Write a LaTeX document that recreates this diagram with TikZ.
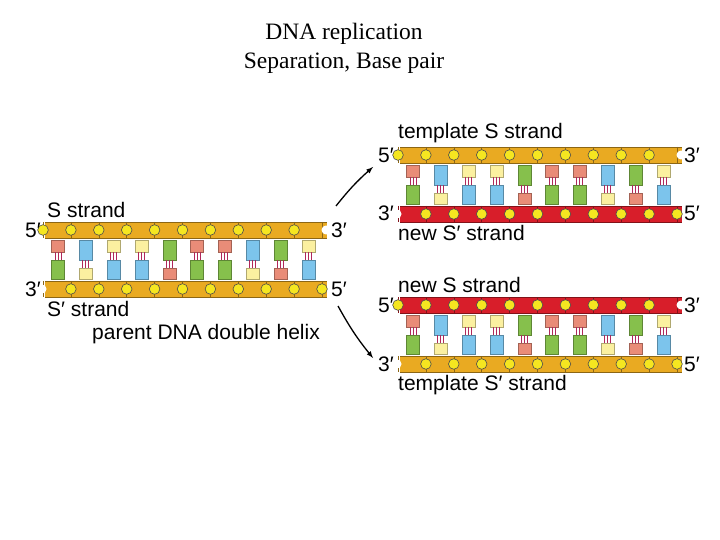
\documentclass[tikz,border=0pt]{standalone}
\usepackage{fontspec}
\setmainfont{Liberation Serif}
\newfontfamily\lsans{Liberation Sans}
\begin{document}
\definecolor{gold}{HTML}{E9AA22}
\definecolor{redb}{HTML}{D81E2A}
\definecolor{phos}{HTML}{F5E620}
\definecolor{sal}{HTML}{E98C78}
\definecolor{blu}{HTML}{7CC4EC}
\definecolor{yel}{HTML}{FBF0A0}
\definecolor{grn}{HTML}{86C04C}
\definecolor{bond}{HTML}{B0285A}
\tikzset{
 lab/.style={font=\lsans\fontsize{21}{23}\selectfont, inner sep=0pt},
 ttl/.style={font=\fontsize{23.5}{26}\selectfont, inner sep=0pt},
 ph/.style={draw=black!70, fill=phos, line width=0.6pt},
 arr/.style={-latex, line width=1.3pt}
}
\newcommand\backbone[4]{%
  \fill[#3] (#1,#2-8) rectangle (#1+282,#2+8);
  \draw[#4,line width=0.6pt] (#1,#2-8) -- (#1+282,#2-8) (#1,#2+8) -- (#1+282,#2+8);
  \foreach \j in {0,...,10} {\draw[#4,line width=0.6pt] (#1-2+27.9*\j,#2-8) -- (#1-2+27.9*\j,#2+8);}
}
\newcommand\duplex[4]{%
  \backbone{#1}{#2}{#3}{#3!60!black}{1}
  \backbone{#1}{#2+59}{#4}{#4!60!black}{0}
  \foreach \i/\t/\b/\tl in {0/sal/grn/0,1/blu/yel/1,2/yel/blu/0,3/yel/blu/0,4/grn/sal/1,5/sal/grn/0,6/sal/grn/0,7/blu/yel/1,8/grn/sal/1,9/yel/blu/0}{
    \pgfmathsetmacro\xc{#1+13+27.8*\i}
    \pgfmathsetmacro\tlen{\tl==1 ? 20 : 12}
    \pgfmathsetmacro\bstart{#2+10+\tlen+8}
    \draw[\t!70!black,fill=\t,line width=0.4pt] (\xc-6.5,#2+10) rectangle (\xc+6.5,#2+10+\tlen);
    \draw[\b!70!black,fill=\b,line width=0.4pt] (\xc-6.5,\bstart) rectangle (\xc+6.5,#2+49);
    \foreach \d in {-3,0,3}{\draw[bond,line width=0.9pt] (\xc+\d,#2+10+\tlen) -- (\xc+\d,\bstart);}
  }
  \foreach \j in {0,...,9} {\draw[ph] (#1-2+27.9*\j,#2) circle (5.3);}
  \foreach \j in {1,...,10} {\draw[ph] (#1-2+27.9*\j,#2+59) circle (5.3);}
  \fill[white] (#1+281,#2) circle (4.5);
  \fill[white] (#1-3,#2+59) circle (4.5);
}
\begin{tikzpicture}[x=1pt,y=-1pt]
\useasboundingbox (0,0) rectangle (720,540);
\fill[white] (0,0) rectangle (720,540);
\node[ttl] (t1) at (344,34) {DNA replication};
\node[ttl] (t2) at (344,63) {Separation, Base pair};
% parent
\duplex{45}{230}{gold}{gold}
\node[lab,anchor=west] (ls) at (47,210) {S strand};
\node[lab] (l5a) at (33,230) {5′};
\node[lab] (l3a) at (339,230) {3′};
\node[lab] (l3b) at (33,289) {3′};
\node[lab] (l5b) at (339,289) {5′};
\node[lab,anchor=west] (lsp) at (47,309) {S′ strand};
\node[lab,anchor=west] (lp) at (92,334) {parent DNA double helix};
% right top
\duplex{400}{155}{gold}{redb}
\node[lab,anchor=west] (rt) at (398,133) {template S strand};
\node[lab] (r5a) at (386,155) {5′};
\node[lab] (r3a) at (692,155) {3′};
\node[lab] (r3b) at (386,213) {3′};
\node[lab] (r5b) at (692,213) {5′};
\node[lab,anchor=west] (rn) at (398,233) {new S′ strand};
% right bottom
\duplex{400}{305}{redb}{gold}
\node[lab,anchor=west] (bn) at (398,285) {new S strand};
\node[lab] (b5a) at (386,305) {5′};
\node[lab] (b3a) at (692,305) {3′};
\node[lab] (b3b) at (386,364) {3′};
\node[lab] (b5b) at (692,364) {5′};
\node[lab,anchor=west] (bt) at (398,385) {template S′ strand};
\coordinate (a1s) at (336,206); \coordinate (a1e) at (373,167);
\coordinate (a2s) at (338,306); \coordinate (a2e) at (373,358);
\draw[arr] (a1s) to[bend left=5] (a1e);
\draw[arr] (a2s) to[bend right=5] (a2e);
\end{tikzpicture}
\end{document}
